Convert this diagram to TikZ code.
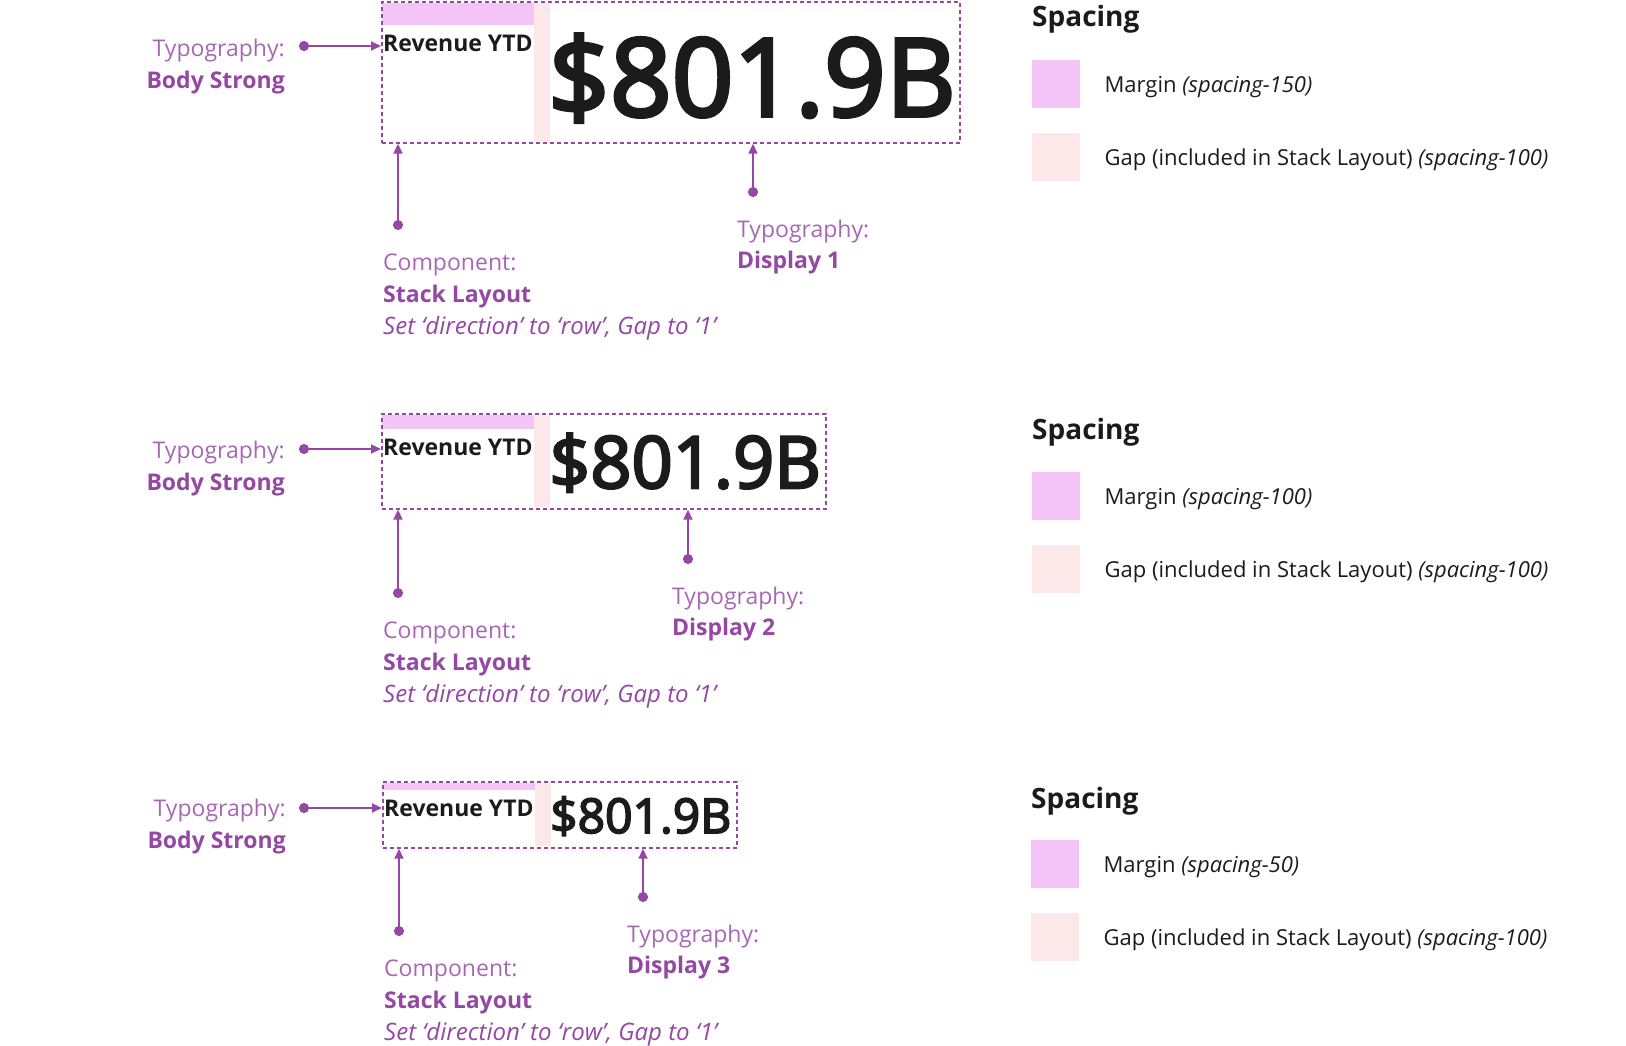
\documentclass[tikz,border=0pt]{standalone}
\usepackage{fontspec}
\setmainfont{Open Sans}
\newfontfamily\displayfont{Open Sans}[FakeBold=3.5]
\usetikzlibrary{positioning}
\usetikzlibrary {arrows.meta}

\definecolor{callout}{HTML}{9447A3}
\definecolor{calloutlight}{HTML}{A767B3}
\definecolor{marginfill}{HTML}{F5C4F6}
\definecolor{gapfill}{HTML}{FCE8E8}
\definecolor{ink}{HTML}{1B1B1B}

\begin{document}
\begin{tikzpicture}[x=1pt,y=-1pt,
  stackbox/.style={draw=callout,line width=1.7pt,dash pattern=on 4pt off 3pt,inner sep=0pt,anchor=north west},
  marginbar/.style={fill=marginfill},
  gapbar/.style={fill=gapfill},
  pointer/.style={draw=callout,line width=1.8pt,{Circle[length=10pt]}-{Triangle[length=10pt,width=9pt]}},
  lightnote/.style={font=\fontsize{23}{28}\selectfont,text=calloutlight,inner sep=0pt},
  strongnote/.style={font=\fontsize{23}{28}\selectfont\bfseries,text=callout,inner sep=0pt},
  slantnote/.style={font=\fontsize{24}{28}\selectfont\itshape,text=callout,inner sep=0pt},
  caption/.style={font=\fontsize{23}{28}\selectfont\bfseries,text=ink,inner sep=0pt,anchor=base west},
  bignum/.style={text=ink,inner sep=0pt,anchor=base west},
  legendhead/.style={font=\fontsize{28}{32}\selectfont\bfseries,text=ink,inner sep=0pt,anchor=base west},
  swatch/.style={minimum size=48pt,inner sep=0pt,anchor=north west},
  legendtext/.style={font=\fontsize{22}{26}\selectfont,text=ink,inner sep=0pt,yshift=-3pt}
]
\useasboundingbox (0,0) rectangle (1626,1046);

%% row 1 : Display 1
\fill[marginbar] (382,3) rectangle (534,25);
\fill[gapbar] (534,3) rectangle (550,141);
\node[stackbox,minimum width=578pt,minimum height=141pt] (row1) at (381,1) {};
\node[caption] (rev1) at (383,52) {Revenue YTD};
\node[bignum,font=\fontsize{108}{116}\displayfont] (val1) at (548,116) {\$801.9B};

\node[lightnote,anchor=base east] (tyL1) at (285,57) {Typography:};
\node[strongnote,anchor=base east] (bsL1) at ([yshift=-32pt]tyL1.base east) {Body Strong};
\coordinate (dotL1) at (299,46);
\draw[pointer] (dotL1) -- (dotL1 -| row1.west);

\coordinate (dotS1) at (398,230);
\draw[pointer] (dotS1) -- (dotS1 |- row1.south);
\node[lightnote,anchor=base west] (cpS1) at (383,270) {Component:};
\node[strongnote,anchor=base west] (slS1) at ([yshift=-32pt]cpS1.base west) {Stack Layout};
\node[slantnote,anchor=base west] (drS1) at ([yshift=-32pt]slS1.base west) {Set ‘direction’ to ‘row’, Gap to ‘1’};

\coordinate (dotD1) at (753,197);
\draw[pointer] (dotD1) -- (dotD1 |- row1.south);
\node[lightnote,anchor=base west] (tyD1) at (737,237) {Typography:};
\node[strongnote,anchor=base west] (dsD1) at ([yshift=-31pt]tyD1.base west) {Display 1};

\node[legendhead] (spc1) at (1032,27) {Spacing};
\node[swatch,fill=marginfill] (mg1) at (1032,60) {};
\node[swatch,fill=gapfill,below=24pt of mg1] (gp1) {};
\node[legendtext,right=24pt of mg1] (mgt1) {Margin \textit{(spacing-150)}};
\node[legendtext,right=24pt of gp1] (gpt1) {Gap (included in Stack Layout) \textit{(spacing-100)}};

%% row 2 : Display 2
\fill[marginbar] (382,415) rectangle (534,429);
\fill[gapbar] (534,415) rectangle (550,507);
\node[stackbox,minimum width=444pt,minimum height=95pt] (row2) at (381,413) {};
\node[caption] (rev2) at (383,455) {Revenue YTD};
\node[bignum,font=\fontsize{72}{78}\displayfont] (val2) at (549,488) {\$801.9B};

\node[lightnote,anchor=base east] (tyL2) at (285,458) {Typography:};
\node[strongnote,anchor=base east] (bsL2) at ([yshift=-32pt]tyL2.base east) {Body Strong};
\coordinate (dotL2) at (299,449);
\draw[pointer] (dotL2) -- (dotL2 -| row2.west);

\coordinate (dotS2) at (398,598);
\draw[pointer] (dotS2) -- (dotS2 |- row2.south);
\node[lightnote,anchor=base west] (cpS2) at (383,638) {Component:};
\node[strongnote,anchor=base west] (slS2) at ([yshift=-32pt]cpS2.base west) {Stack Layout};
\node[slantnote,anchor=base west] (drS2) at ([yshift=-32pt]slS2.base west) {Set ‘direction’ to ‘row’, Gap to ‘1’};

\coordinate (dotD2) at (688,564);
\draw[pointer] (dotD2) -- (dotD2 |- row2.south);
\node[lightnote,anchor=base west] (tyD2) at (672,604) {Typography:};
\node[strongnote,anchor=base west] (dsD2) at ([yshift=-31pt]tyD2.base west) {Display 2};

\node[legendhead] (spc2) at (1032,439) {Spacing};
\node[swatch,fill=marginfill] (mg2) at (1032,472) {};
\node[swatch,fill=gapfill,below=24pt of mg2] (gp2) {};
\node[legendtext,right=24pt of mg2] (mgt2) {Margin \textit{(spacing-100)}};
\node[legendtext,right=24pt of gp2] (gpt2) {Gap (included in Stack Layout) \textit{(spacing-100)}};

%% row 3 : Display 3
\fill[marginbar] (383,783) rectangle (535,790);
\fill[gapbar] (535,783) rectangle (551,846);
\node[stackbox,minimum width=354pt,minimum height=66pt] (row3) at (382,781) {};
\node[caption] (rev3) at (384,816) {Revenue YTD};
\node[bignum,font=\fontsize{48}{54}\displayfont] (val3) at (550,833) {\$801.9B};

\node[lightnote,anchor=base east] (tyL3) at (286,816) {Typography:};
\node[strongnote,anchor=base east] (bsL3) at ([yshift=-32pt]tyL3.base east) {Body Strong};
\coordinate (dotL3) at (299,808);
\draw[pointer] (dotL3) -- (dotL3 -| row3.west);

\coordinate (dotS3) at (399,936);
\draw[pointer] (dotS3) -- (dotS3 |- row3.south);
\node[lightnote,anchor=base west] (cpS3) at (384,976) {Component:};
\node[strongnote,anchor=base west] (slS3) at ([yshift=-32pt]cpS3.base west) {Stack Layout};
\node[slantnote,anchor=base west] (drS3) at ([yshift=-32pt]slS3.base west) {Set ‘direction’ to ‘row’, Gap to ‘1’};

\coordinate (dotD3) at (643,902);
\draw[pointer] (dotD3) -- (dotD3 |- row3.south);
\node[lightnote,anchor=base west] (tyD3) at (627,942) {Typography:};
\node[strongnote,anchor=base west] (dsD3) at ([yshift=-31pt]tyD3.base west) {Display 3};

\node[legendhead] (spc3) at (1031,808) {Spacing};
\node[swatch,fill=marginfill] (mg3) at (1031,840) {};
\node[swatch,fill=gapfill,below=24pt of mg3] (gp3) {};
\node[legendtext,right=24pt of mg3] (mgt3) {Margin \textit{(spacing-50)}};
\node[legendtext,right=24pt of gp3] (gpt3) {Gap (included in Stack Layout) \textit{(spacing-100)}};
\end{tikzpicture}
\end{document}
